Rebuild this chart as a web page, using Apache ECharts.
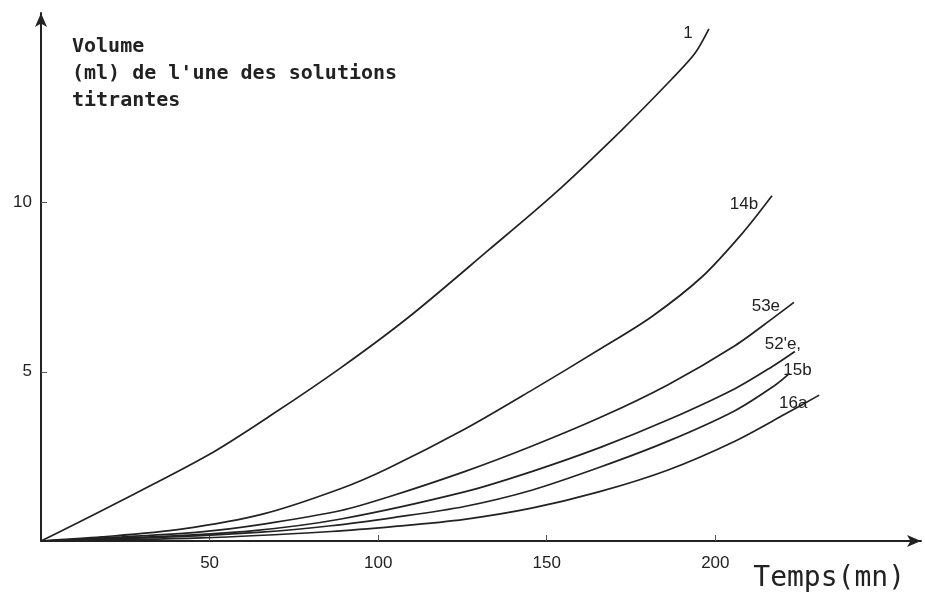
<!DOCTYPE html>
<html>
<head>
<meta charset="utf-8">
<script src="https://cdn.jsdelivr.net/npm/echarts@6/dist/echarts.min.js"></script>
<style>
  html, body { margin: 0; background: #fff; }
  #chart { width: 925px; height: 594px; }
</style>
</head>
<body>
<div id="chart"></div>
<script>
// tick labels
const xTicks = [50, 100, 150, 200]
const yTicks = [5, 10]

// curve names, as written at the end of each curve
const names = ['1', '14b', '53e', "52'e,", '15b', '16a']

// [temps (mn), volume (ml)]
const curve1 = [[0, 0], [20, 1.0], [49.6, 2.54], [69.2, 3.78], [89.1, 5.13], [109, 6.61],
  [132.8, 8.6], [152.4, 10.27], [172.3, 12.15], [187.1, 13.65], [193.9, 14.4], [198.1, 15.13]]
const curve14b = [[0, 0], [18, 0.12], [41.6, 0.35], [66, 0.8], [89, 1.55], [103, 2.15], [125.6, 3.3],
  [145.5, 4.45], [166.3, 5.7], [181, 6.62], [196, 7.8], [208, 9.09], [216.8, 10.2]]
const curve53e = [[0, 0], [24, 0.12], [47.5, 0.27], [66, 0.5], [89, 0.9], [103, 1.3], [125.6, 2.05],
  [145.5, 2.8], [166.3, 3.67], [186, 4.62], [205.8, 5.77], [217.7, 6.63], [223.3, 7.05]]
const curve52e = [[0, 0], [32.7, 0.12], [62.4, 0.3], [89, 0.65], [125.6, 1.45], [145.5, 2.05],
  [166.3, 2.78], [186, 3.58], [205.8, 4.5], [216.8, 5.15], [223.6, 5.6]]
const curve15b = [[0, 0], [38.6, 0.12], [65.3, 0.26], [86, 0.45], [105, 0.7], [125.6, 1.02], [145.5, 1.5],
  [166.3, 2.2], [186, 2.95], [205.8, 3.85], [217.7, 4.6], [222, 4.95]]
const curve16a = [[0, 0], [47.5, 0.09], [86, 0.28], [105, 0.43], [125.6, 0.64], [145.5, 0.97],
  [165.4, 1.45], [186, 2.1], [205.8, 2.95], [220.7, 3.75], [230.8, 4.31]]

const curves = [curve1, curve14b, curve53e, curve52e, curve15b, curve16a]
// where each name sits relative to the curve end (px)
const labelOffsets = [[-21, 4], [-28, 9], [-28, 4], [-12, -7], [8, -3], [-26, 8]]

const ink = '#222'
const font = 'Liberation Sans, Arial, sans-serif'

const chart = echarts.init(document.getElementById('chart'))
chart.setOption({
  animation: false,
  grid: { left: 41, right: 4, top: 13, bottom: 53, containLabel: false, outerBoundsMode: 'none' },
  xAxis: {
    type: 'value',
    min: 0,
    max: 261,
    axisLine: {
      onZero: false,
      symbol: ['none', 'arrow'],
      symbolSize: [9, 14],
      lineStyle: { color: ink, width: 2 }
    },
    axisTick: { show: true, inside: true, length: 6, customValues: xTicks, lineStyle: { color: '#555' } },
    axisLabel: { customValues: xTicks, margin: 14, fontSize: 17, color: ink, fontFamily: font },
    splitLine: { show: false }
  },
  yAxis: {
    type: 'value',
    min: 0,
    max: 15.6,
    axisLine: {
      show: true,
      onZero: false,
      symbol: ['none', 'arrow'],
      symbolSize: [9, 14],
      lineStyle: { color: ink, width: 2 }
    },
    axisTick: { show: true, inside: true, length: 6, customValues: yTicks, lineStyle: { color: '#555' } },
    axisLabel: { customValues: yTicks, margin: 9, fontSize: 17, color: ink, fontFamily: font },
    splitLine: { show: false }
  },
  graphic: [
    {
      type: 'text',
      left: 72,
      top: 33,
      style: {
        text: "Volume\n(ml) de l'une des solutions\ntitrantes",
        font: 'bold 20px "DejaVu Sans Mono", monospace',
        lineHeight: 27,
        fill: ink
      }
    },
    {
      type: 'text',
      right: 20,
      bottom: 1,
      style: {
        text: 'Temps(mn)',
        font: '28px "DejaVu Sans Mono", monospace',
        fill: ink
      }
    }
  ],
  series: curves.map((data, i) => ({
    name: names[i],
    type: 'line',
    data: data,
    smooth: 0.3,
    showSymbol: false,
    lineStyle: { color: ink, width: 1.7 },
    endLabel: {
      show: true,
      formatter: names[i],
      distance: 0,
      align: 'center',
      verticalAlign: 'middle',
      offset: labelOffsets[i],
      fontSize: 17,
      color: ink,
      fontFamily: font
    }
  }))
})
</script>
</body>
</html>
